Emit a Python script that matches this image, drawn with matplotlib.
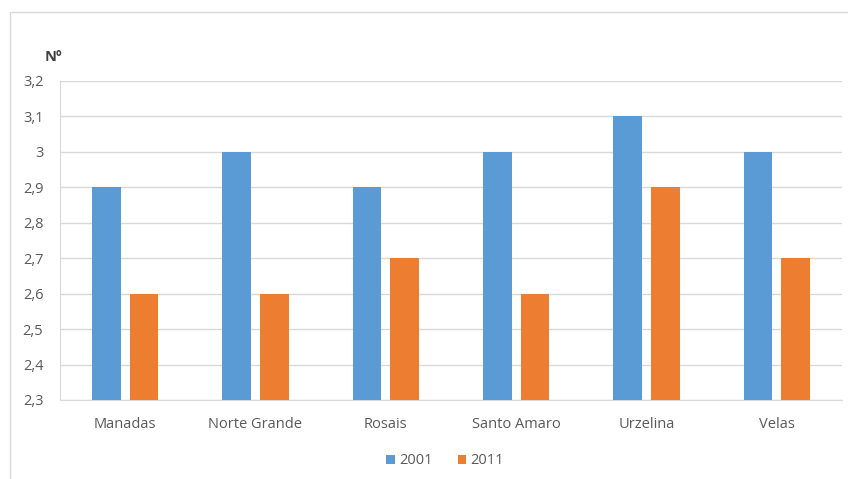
"""Average household size by parish, 2001 vs 2011."""

import matplotlib.pyplot as plt
import numpy as np
from matplotlib.patches import Rectangle

parishes = ["Manadas", "Norte Grande", "Rosais", "Santo Amaro", "Urzelina", "Velas"]
values_2001 = [2.9, 3.0, 2.9, 3.0, 3.1, 3.0]
values_2011 = [2.6, 2.6, 2.7, 2.6, 2.9, 2.7]
years = ["2001", "2011"]
y_ticks = [2.3, 2.4, 2.5, 2.6, 2.7, 2.8, 2.9, 3.0, 3.1, 3.2]

BLUE = "#5B9BD5"
ORANGE = "#ED7D31"
TEXT = "#595959"
GRID = "#D9D9D9"

plt.rcParams["font.family"] = ["Open Sans", "DejaVu Sans"]

fig = plt.figure(figsize=(8.48, 4.79), dpi=100)
ax = fig.add_axes([60 / 848, 79 / 479, 782 / 848, 319 / 479])

x = np.arange(len(parishes))
width = 0.22
base = y_ticks[0]
ax.bar(x - 0.145, np.array(values_2001) - base, width, bottom=base,
       color=BLUE, label=years[0], zorder=3)
ax.bar(x + 0.145, np.array(values_2011) - base, width, bottom=base,
       color=ORANGE, label=years[1], zorder=3)

ax.set_xlim(-0.5, len(parishes) - 0.5)
ax.set_ylim(y_ticks[0], y_ticks[-1])
ax.set_yticks(y_ticks)
ax.set_yticklabels([f"{v:g}".replace(".", ",") for v in y_ticks])
ax.set_xticks(x)
ax.set_xticklabels(parishes)
ax.tick_params(axis="both", length=0, colors=TEXT, labelsize=10.5)
ax.tick_params(axis="x", pad=12)
ax.tick_params(axis="y", pad=12)

ax.grid(axis="y", color=GRID, linewidth=1, zorder=0)
for side in ["top", "right"]:
    ax.spines[side].set_visible(False)
ax.spines["left"].set_color(GRID)
ax.spines["bottom"].set_color(GRID)

fig.text(45 / 848, 1 - 57 / 479, "Nº", color="#404040", fontsize=10.5,
         fontweight="bold", va="center", ha="left")

fig.legend(loc="center", bbox_to_anchor=(0.525, 1 - 461 / 479), ncol=2,
           frameon=False, fontsize=10.5, labelcolor=TEXT, handlelength=0.6,
           handleheight=0.6, handletextpad=0.3, columnspacing=1.7)

fig.patches.append(Rectangle((10 / 848, -0.05), 1.0, 1.05 - 12 / 479,
                             transform=fig.transFigure, fill=False,
                             edgecolor=GRID, linewidth=1))

fig.savefig("out.png", dpi=100)
